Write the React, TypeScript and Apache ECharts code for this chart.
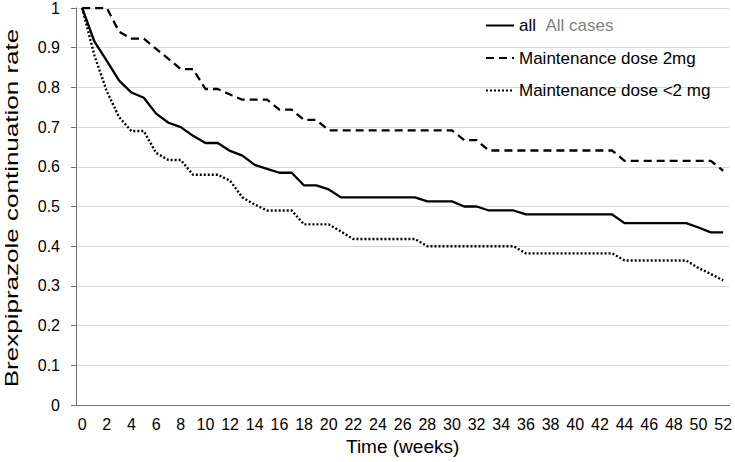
import React, { useEffect, useRef } from "react";
import * as echarts from "echarts";

const weeks = [
  "0", "1", "2", "3", "4", "5", "6", "7", "8", "9", "10", "11", "12", "13", "14", "15", "16", "17",
  "18", "19", "20", "21", "22", "23", "24", "25", "26", "27", "28", "29", "30", "31", "32", "33", "34", "35",
  "36", "37", "38", "39", "40", "41", "42", "43", "44", "45", "46", "47", "48", "49", "50", "51", "52",
];

const allCases = [
  1.0, 0.915, 0.867, 0.817, 0.787, 0.774, 0.734, 0.711, 0.7, 0.678,
  0.66, 0.66, 0.64, 0.628, 0.605, 0.595, 0.585, 0.585, 0.553, 0.553,
  0.543, 0.523, 0.523, 0.523, 0.523, 0.523, 0.523, 0.523, 0.513, 0.513,
  0.513, 0.5, 0.5, 0.49, 0.49, 0.49, 0.48, 0.48, 0.48, 0.48,
  0.48, 0.48, 0.48, 0.48, 0.458, 0.458, 0.458, 0.458, 0.458, 0.458,
  0.447, 0.435, 0.435,
];

const dose2mg = [
  1.0, 1.0, 1.0, 0.94, 0.923, 0.923, 0.897, 0.872, 0.846, 0.846,
  0.796, 0.796, 0.782, 0.769, 0.769, 0.769, 0.744, 0.744, 0.718, 0.718,
  0.692, 0.692, 0.692, 0.692, 0.692, 0.692, 0.692, 0.692, 0.692, 0.692,
  0.692, 0.667, 0.667, 0.641, 0.641, 0.641, 0.641, 0.641, 0.641, 0.641,
  0.641, 0.641, 0.641, 0.641, 0.615, 0.615, 0.615, 0.615, 0.615, 0.615,
  0.615, 0.615, 0.59,
];

const doseUnder2mg = [
  1.0, 0.88, 0.79, 0.725, 0.69, 0.69, 0.635, 0.617, 0.617, 0.58,
  0.58, 0.58, 0.565, 0.523, 0.505, 0.49, 0.49, 0.49, 0.455, 0.455,
  0.455, 0.437, 0.418, 0.418, 0.418, 0.418, 0.418, 0.418, 0.4, 0.4,
  0.4, 0.4, 0.4, 0.4, 0.4, 0.4, 0.382, 0.382, 0.382, 0.382,
  0.382, 0.382, 0.382, 0.382, 0.364, 0.364, 0.364, 0.364, 0.364, 0.364,
  0.345, 0.33, 0.314,
];

const seriesNames = ["all", "Maintenance dose 2mg", "Maintenance dose <2 mg"];
const allCasesNote = "All cases";
const xTitle = "Time (weeks)";
const yTitle = "Brexpiprazole continuation rate";

const FONT = "'Liberation Sans', Arial, sans-serif";

export default function App() {
  const ref = useRef<HTMLDivElement>(null);

  useEffect(() => {
    if (!ref.current) return;
    const chart = echarts.init(ref.current, null, { renderer: "svg" });
    const axisGray = "#6e6e6e";
    const option = {
      animation: false,
      backgroundColor: "#ffffff",
      textStyle: { fontFamily: FONT },
      grid: { left: 76, right: 2, top: 7, bottom: 57, containLabel: false },
      legend: {
        orient: "vertical",
        left: 480,
        top: 12,
        itemWidth: 28,
        itemHeight: 14,
        itemGap: 15.5,
        selectedMode: false,
        data: seriesNames,
        itemStyle: { opacity: 0 },
        textStyle: {
          fontFamily: FONT,
          fontSize: 17,
          color: "#000",
          rich: {
            a: { fontFamily: FONT, fontSize: 17, color: "#000" },
            b: { fontFamily: FONT, fontSize: 17, color: "#7f7f7f" },
          },
        },
        formatter: (name: string) =>
          name === seriesNames[0] ? `{a|${name}}  {b|${allCasesNote}}` : name,
      },
      graphic: [
        {
          type: "text",
          x: 11,
          y: 208,
          rotation: Math.PI / 2,
          scaleX: 1.37,
          silent: true,
          style: {
            text: yTitle,
            font: `19px ${FONT}`,
            fill: "#000",
            textAlign: "center",
            textVerticalAlign: "middle",
          },
        },
      ],
      xAxis: {
        type: "category",
        data: weeks,
        boundaryGap: true,
        name: xTitle,
        nameLocation: "middle",
        nameGap: 31,
        nameTextStyle: { fontFamily: FONT, fontSize: 19, color: "#000" },
        axisLine: { lineStyle: { color: axisGray, width: 1 } },
        axisTick: { interval: 0, alignWithLabel: false, length: 4, lineStyle: { color: axisGray } },
        axisLabel: { interval: 1, fontFamily: FONT, fontSize: 16, color: "#000", margin: 11 },
        splitLine: { show: false },
      },
      yAxis: {
        type: "value",
        min: 0,
        max: 1,
        interval: 0.1,
        axisLine: { show: true, lineStyle: { color: axisGray, width: 1 } },
        axisTick: { show: true, length: 5, lineStyle: { color: axisGray } },
        axisLabel: { fontFamily: FONT, fontSize: 16, color: "#000", margin: 16 },
        splitLine: { show: true, lineStyle: { color: "#d9d9d9", width: 1 } },
      },
      series: [
        {
          name: seriesNames[0],
          type: "line",
          data: allCases,
          symbol: "none",
          lineStyle: { color: "#000", width: 2.3, type: "solid" },
          itemStyle: { color: "#000", opacity: 0 },
        },
        {
          name: seriesNames[1],
          type: "line",
          data: dose2mg,
          symbol: "none",
          lineStyle: { color: "#000", width: 2.3, type: [8, 5] },
          itemStyle: { color: "#000", opacity: 0 },
        },
        {
          name: seriesNames[2],
          type: "line",
          data: doseUnder2mg,
          symbol: "none",
          lineStyle: { color: "#000", width: 2.4, type: [2, 2] },
          itemStyle: { color: "#000", opacity: 0 },
        },
      ],
    };
    chart.setOption(option as any);
    return () => chart.dispose();
  }, []);

  return (
    <div
      ref={ref}
      style={{ position: "fixed", left: 0, top: 0, width: 735, height: 462, background: "#fff" }}
    />
  );
}
